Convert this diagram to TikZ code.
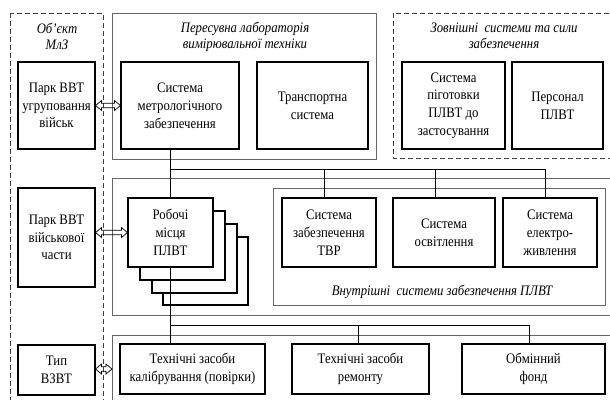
\documentclass[tikz,border=0pt]{standalone}
\usepackage{fontspec}
\setmainfont{Liberation Serif}[FakeStretch=0.88]
\usetikzlibrary{calc}
\newcommand{\mybox}[6]{%
  \node[box, minimum width={(#4-#2)*1pt}, minimum height={(#5-#3)*1pt}] (#1) at ({(#2+#4)/2},{(#3+#5)/2}) {#6};}
\newcommand{\hollowarrow}[2]{%
  \draw[darr] let \p1=(#1), \p2=(#2) in
    (\x1,\y1) -- (\x1+6pt,\y1+5pt) -- (\x1+6pt,\y1+2.2pt) -- (\x2-6pt,\y1+2.2pt) -- (\x2-6pt,\y1+5pt)
    -- (\x2,\y1) -- (\x2-6pt,\y1-5pt) -- (\x2-6pt,\y1-2.2pt) -- (\x1+6pt,\y1-2.2pt) -- (\x1+6pt,\y1-5pt) -- cycle;}
\begin{document}
\begin{tikzpicture}[x=1pt,y=-1pt,
  box/.style={draw=black, line width=1.1pt, fill=white, align=center, inner sep=0pt, font=\fontsize{14.5}{17.8}\selectfont},
  frame/.style={draw=black!60, line width=0.8pt},
  dframe/.style={draw=black!75, line width=0.8pt, dash pattern=on 5pt off 3pt},
  title/.style={font=\fontsize{14.5}{16}\selectfont\itshape, align=center},
  conn/.style={draw=black, line width=0.8pt},
  darr/.style={draw=black, line width=0.7pt, line join=miter}
]
\useasboundingbox (0,0) rectangle (610,399);
\clip (0,0) rectangle (610,399);
% frames
\draw[dframe] (10,13) rectangle (103,410);
\draw[frame] (112,13) rectangle (376,159);
\draw[dframe] (393,13) rectangle (620,158);
\draw[frame] (112,178) rectangle (620,315);
\draw[frame] (273,188) rectangle (605,305);
\draw[frame] (112,335) rectangle (620,410);
% titles
\node[title] (t1) at (57,36) {Об’єкт\\МлЗ};
\node[title] (t2) at (245,37) {Пересувна лабораторія\\вимірювальної техніки};
\node[title] (t3) at (504,36) {Зовнішні\ \ системи та сили\\забезпечення};
\node[title] (t4) at (442,292) {Внутрішні\ \ системи забезпечення ПЛВТ};
% boxes
\mybox{park1}{18}{62}{95}{149}{Парк ВВТ\\угруповання\\військ}
\mybox{park2}{18}{188}{95}{287}{Парк ВВТ\\військової\\части}
\mybox{tip}{18}{345}{95}{395}{Тип\\ВЗВТ}
\mybox{metro}{121}{62}{239}{149}{Система\\метрологічного\\забезпечення}
\mybox{trans}{257}{62}{368}{149}{Транспортна\\система}
\mybox{prep}{402}{62}{505}{149}{Система\\піготовки\\ПЛВТ до\\застосування}
\mybox{pers}{512}{62}{603}{149}{Персонал\\ПЛВТ}
% connectors upper
\coordinate (b1) at (171,169);
\coordinate (d1) at (324,169);
\coordinate (d2) at (435,169);
\coordinate (d3) at (545,169);
\draw[conn] (b1) -- (d3);
\mybox{r4}{163}{237}{248}{305}{}
\mybox{r3}{152}{224}{237}{293}{}
\mybox{r2}{140}{211}{225}{280}{}
\mybox{rob}{128}{198}{213}{267}{Робочі\\місця\\ПЛВТ}
\mybox{tvr}{282}{198}{376}{267}{Система\\забезпечення\\ТВР}
\mybox{osv}{393}{198}{495}{267}{Система\\освітлення}
\mybox{el}{503}{198}{597}{267}{Система\\електро-\\живлення}
\draw[conn] (metro.south -| rob.north) -- (rob.north);
\draw[conn] (d1) -- (d1 |- tvr.north);
\draw[conn] (d2) -- (d2 |- osv.north);
\draw[conn] (d3) -- (d3 |- el.north);
% lower
\mybox{kal}{120}{344}{265}{394}{Технічні засоби\\калібрування (повірки)}
\mybox{rem}{292}{344}{429}{394}{Технічні засоби\\ремонту}
\mybox{obm}{462}{344}{605}{394}{Обмінний\\фонд}
\coordinate (b2) at (171,325);
\coordinate (e1) at (358,325);
\coordinate (e2) at (529,325);
\draw[conn] (rob.south) -- (kal.north -| rob.south);
\draw[conn] (b2) -- (e2);
\draw[conn] (e1) -- (e1 |- rem.north);
\draw[conn] (e2) -- (e2 |- obm.north);
% double arrows
\coordinate (lowframe) at (112,369);
\hollowarrow{park1.east}{metro.west}
\hollowarrow{park2.east |- rob.west}{rob.west}
\hollowarrow{tip.east |- lowframe}{lowframe}
\end{tikzpicture}
\end{document}
